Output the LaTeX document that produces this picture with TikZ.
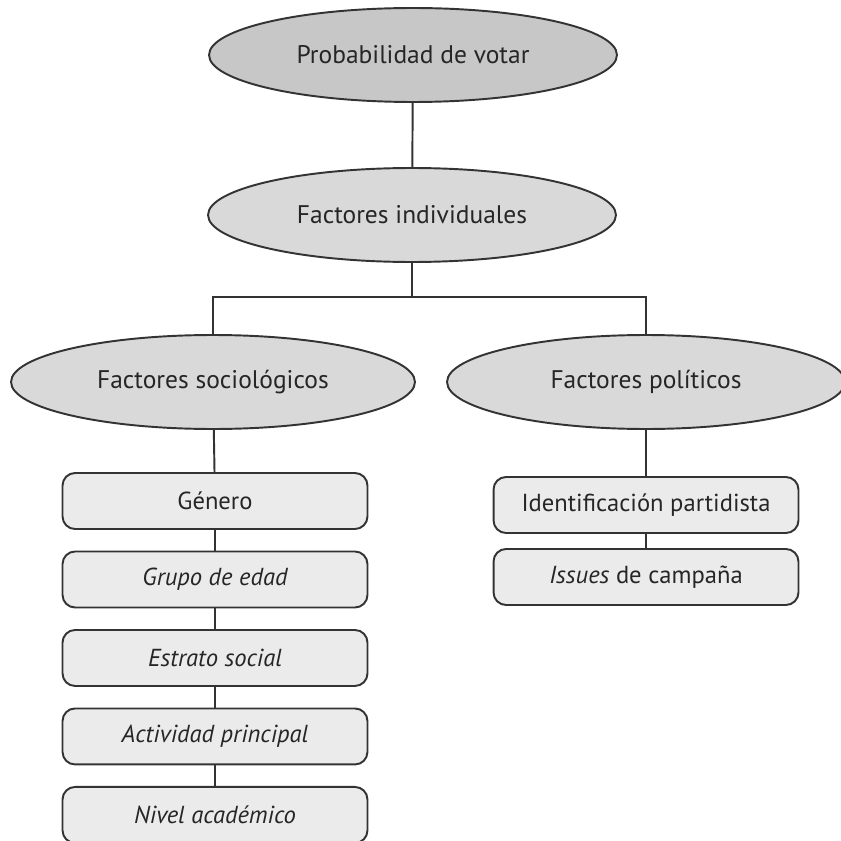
\documentclass[tikz,border=0pt]{standalone}
\usepackage{fontspec}
\setmainfont{PT Sans}
\usetikzlibrary{shapes,positioning}

\begin{document}
\begin{tikzpicture}[x=0.02cm,y=-0.02cm]
      \tikzstyle{goal}=[ellipse,draw=black!80,line width=1.1pt,fill=black!22,inner sep=0pt,
        minimum width=8.16cm,minimum height=1.88cm,text=black!85,font=\fontsize{14.5}{16}\selectfont]
      \tikzstyle{factor}=[goal,fill=black!15]
      \tikzstyle{item}=[rectangle,rounded corners=2.5mm,draw=black!80,line width=1.1pt,fill=black!8,
        minimum width=6.1cm,minimum height=1.12cm,text=black!85,font=\fontsize{14}{16}\selectfont]
      \tikzstyle{link}=[draw=black!80,line width=1.1pt]

      \useasboundingbox (0,0) rectangle (841,841);

      % top of the tree
      \node[goal](prob) at (413,55){Probabilidad de votar};
      \node[factor](ind) at (412,215){Factores individuales};
      \node[factor,minimum width=8.08cm](soc) at (213,382){Factores sociológicos};
      \node[factor,minimum width=7.96cm](pol) at (646,382){Factores políticos};
      \coordinate (fork) at (412,297);

      % left column
      \begin{scope}[node distance=1.57cm]
        \node[item](gen) at (215,501){Género};
        \node[item](edad)[below of=gen]{\itshape Grupo de edad};
        \node[item](estr)[below of=edad]{\itshape Estrato social};
        \node[item](act)[below of=estr]{\itshape Actividad principal};
        \node[item](niv)[below of=act]{\itshape Nivel académico};
      \end{scope}

      % right column
      \begin{scope}[node distance=1.44cm]
        \node[item](ident) at (646,505){Identificación partidista};
        \node[item](iss)[below of=ident]{\textit{Issues} de campaña};
      \end{scope}

      \path[link]
      (prob) edge (ind)
      (ind) edge (fork)
      (soc) edge (gen)
      (gen) edge (edad)
      (edad) edge (estr)
      (estr) edge (act)
      (act) edge (niv)
      (pol) edge (ident)
      (ident) edge (iss);
      \draw[link] (soc.north) |- (fork) -| (pol.north);
\end{tikzpicture}
\end{document}
